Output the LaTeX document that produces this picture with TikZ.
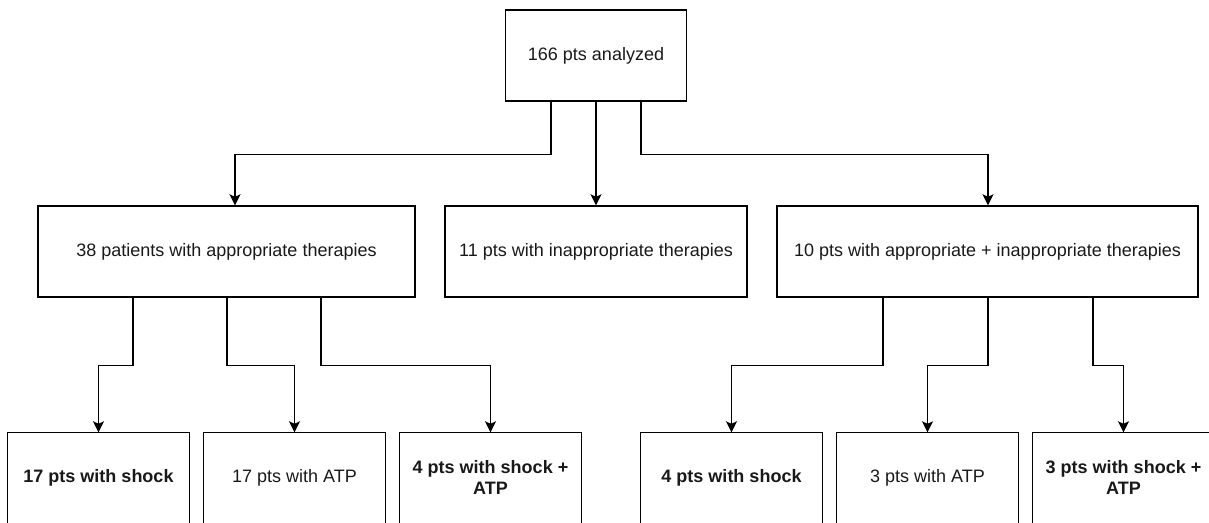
\documentclass[tikz,border=0pt]{standalone}
\usepackage{fontspec}
\setmainfont{Liberation Sans}
\usetikzlibrary{arrows.meta}
\tikzset{
  box/.style={draw=black, line width=1.4pt, rectangle, inner sep=0pt, align=center,
    font=\fontsize{18}{21.6}\selectfont, text=black!90},
  topbox/.style={box, minimum width=181pt, minimum height=91pt},
  midbox/.style={box, minimum height=91pt},
  leafbox/.style={box, draw=none, minimum width=181pt, minimum height=89pt},
  boxline/.style={draw=black, line width=1.4pt},
  boldtext/.style={font=\fontsize{18}{21.6}\selectfont\bfseries},
  arr/.style={draw=black, line width=1.4pt, -{Stealth[width=11pt,length=11pt,inset=2.5pt]}}
}
\begin{document}
\begin{tikzpicture}[x=1pt,y=-1pt]
\useasboundingbox (0,0) rectangle (1209,522);
\node[topbox] (top) at (596,55.5) {166 pts analyzed};
\node[midbox, minimum width=377pt] (left) at (226.5,251.5) {38 patients with appropriate therapies};
\node[midbox, minimum width=302pt] (mid) at (596,251.5) {11 pts with inappropriate therapies};
\node[midbox, minimum width=421pt] (right) at (987.5,251.5) {10 pts with appropriate + inappropriate therapies};
\node[leafbox, boldtext] (b1) at (98.5,477.5) {17 pts with shock};
\node[leafbox] (b2) at (294.5,477.5) {17 pts with ATP};
\node[leafbox, boldtext] (b3) at (490.5,477.5) {4 pts with shock +\\ATP};
\node[leafbox, boldtext] (b4) at (731.5,477.5) {4 pts with shock};
\node[leafbox] (b5) at (927.5,477.5) {3 pts with ATP};
\node[leafbox, boldtext] (b6) at (1123.5,477.5) {3 pts with shock +\\ATP};
\foreach \b in {b1,b2,b3,b4,b5,b6}
  \draw[boxline] (\b.north west) rectangle ([yshift=-20pt]\b.south east);
\draw[arr] ([xshift=-45pt]top.south) -- ++(0,53) -| ([xshift=8.5pt]left.north);
\draw[arr] (top.south) -- (mid.north);
\draw[arr] ([xshift=45pt]top.south) -- ++(0,53) -| ([xshift=0.5pt]right.north);
\draw[arr] ([xshift=-93.5pt]left.south) -- ++(0,68) -| (b1.north);
\draw[arr] ([xshift=0.5pt]left.south) -- ++(0,68) -| (b2.north);
\draw[arr] ([xshift=94.5pt]left.south) -- ++(0,68) -| (b3.north);
\draw[arr] ([xshift=-104.5pt]right.south) -- ++(0,68) -| (b4.north);
\draw[arr] ([xshift=0.5pt]right.south) -- ++(0,68) -| (b5.north);
\draw[arr] ([xshift=105.5pt]right.south) -- ++(0,68) -| (b6.north);
\end{tikzpicture}
\end{document}
